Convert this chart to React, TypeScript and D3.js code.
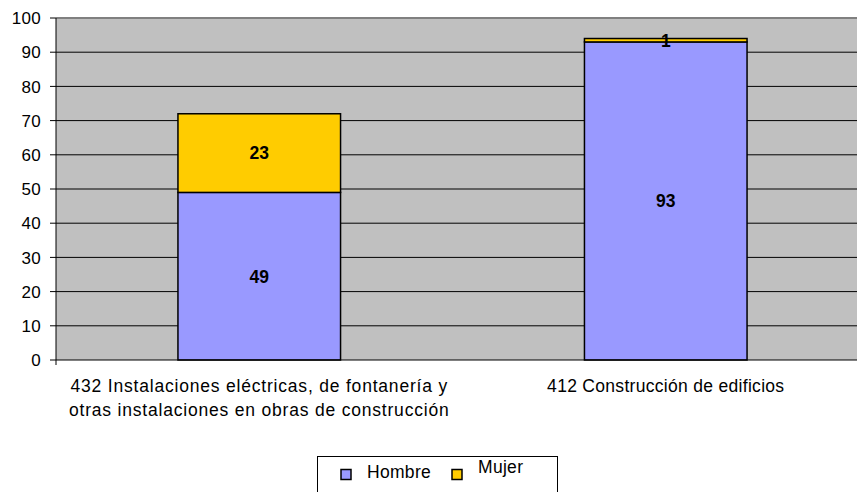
import React, { useEffect, useRef } from "react";
import * as d3 from "d3";

const categories: string[][] = [
  ["432 Instalaciones eléctricas, de fontanería y", "otras instalaciones en obras de construcción"],
  ["412 Construcción de edificios"],
];
const hombreValues = [49, 93];
const mujerValues = [23, 1];
const seriesNames = ["Hombre", "Mujer"];
const seriesColors = ["#9999FF", "#FFCC00"];
const yTicks = [0, 10, 20, 30, 40, 50, 60, 70, 80, 90, 100];

const W = 857;
const H = 492;
const FONT = "'Liberation Sans', Arial, sans-serif";

export default function App() {
  const ref = useRef<SVGSVGElement>(null);

  useEffect(() => {
    const svg = d3.select(ref.current);
    svg.selectAll("*").remove();

    const left = 56, top = 18, right = 869, bottom = 360;
    const y = d3.scaleLinear().domain([0, 100]).range([bottom, top]);
    const x = d3.scaleBand<number>().domain(d3.range(categories.length)).range([left, right]).paddingInner(0.6).paddingOuter(0.3);

    const g = svg.append("g");
    g.append("rect").attr("x", left).attr("y", top).attr("width", right - left).attr("height", bottom - top).attr("fill", "#C0C0C0");
    g.append("line").attr("x1", left).attr("x2", right).attr("y1", top).attr("y2", top).attr("stroke", "#808080").attr("stroke-width", 2);

    yTicks.forEach((t) => {
      if (t > 0 && t < 100) {
        g.append("line").attr("x1", left).attr("x2", right).attr("y1", y(t)).attr("y2", y(t)).attr("stroke", "#000").attr("stroke-width", 1);
      }
      g.append("line").attr("x1", left - 6).attr("x2", left).attr("y1", y(t)).attr("y2", y(t)).attr("stroke", "#000").attr("stroke-width", 1);
      g.append("text").attr("x", left - 15).attr("y", y(t)).attr("dy", "0.36em").attr("text-anchor", "end")
        .attr("font-family", FONT).attr("font-size", 17).attr("letter-spacing", 0.3).attr("fill", "#000").text(String(t));
    });

    const stacks = categories.map((_, i) => [hombreValues[i], mujerValues[i]]);
    stacks.forEach((vals, i) => {
      let base = 0;
      vals.forEach((v, s) => {
        const y0 = y(base), y1 = y(base + v);
        g.append("rect").attr("x", x(i)!).attr("width", x.bandwidth()).attr("y", y1).attr("height", y0 - y1)
          .attr("fill", seriesColors[s]).attr("stroke", "#000").attr("stroke-width", 1.5);
        base += v;
      });
    });
    stacks.forEach((vals, i) => {
      let base = 0;
      vals.forEach((v) => {
        const yc = y(base + v / 2);
        g.append("text").attr("x", x(i)! + x.bandwidth() / 2).attr("y", yc).attr("dy", "0.36em").attr("text-anchor", "middle")
          .attr("font-family", FONT).attr("font-size", 17.5).attr("font-weight", "bold").attr("fill", "#000").text(String(v));
        base += v;
      });
    });

    // axes lines
    g.append("line").attr("x1", left).attr("x2", left).attr("y1", top).attr("y2", bottom + 5).attr("stroke", "#000").attr("stroke-width", 1);
    g.append("line").attr("x1", left).attr("x2", right).attr("y1", bottom).attr("y2", bottom).attr("stroke", "#000").attr("stroke-width", 1);

    const labelSpacing = [0.8, 0.3];
    categories.forEach((lines, i) => {
      const cx = x(i)! + x.bandwidth() / 2;
      lines.forEach((ln, j) => {
        g.append("text").attr("x", cx).attr("y", 392 + j * 24).attr("text-anchor", "middle")
          .attr("font-family", FONT).attr("font-size", 17.5).attr("letter-spacing", labelSpacing[i]).attr("fill", "#000").text(ln);
      });
    });

    // legend
    g.append("rect").attr("x", 317.5).attr("y", 456.5).attr("width", 240).attr("height", 50).attr("fill", "#fff").attr("stroke", "#000").attr("stroke-width", 1);
    const legendItems = [
      { sx: 341, tx: 367, ty: 478 },
      { sx: 452, tx: 478, ty: 473 },
    ];
    legendItems.forEach((it, s) => {
      g.append("rect").attr("x", it.sx).attr("y", 469.5).attr("width", 10).attr("height", 10).attr("fill", seriesColors[s]).attr("stroke", "#000").attr("stroke-width", 1.5);
      g.append("text").attr("x", it.tx).attr("y", it.ty).attr("font-family", FONT).attr("font-size", 17.5).attr("letter-spacing", 0.3).attr("fill", "#000").text(seriesNames[s]);
    });
  }, []);

  return (
    <div style={{ position: "fixed", left: 0, top: 0 }}>
      <svg ref={ref} width={W} height={H} style={{ display: "block", background: "#fff" }} />
    </div>
  );
}
